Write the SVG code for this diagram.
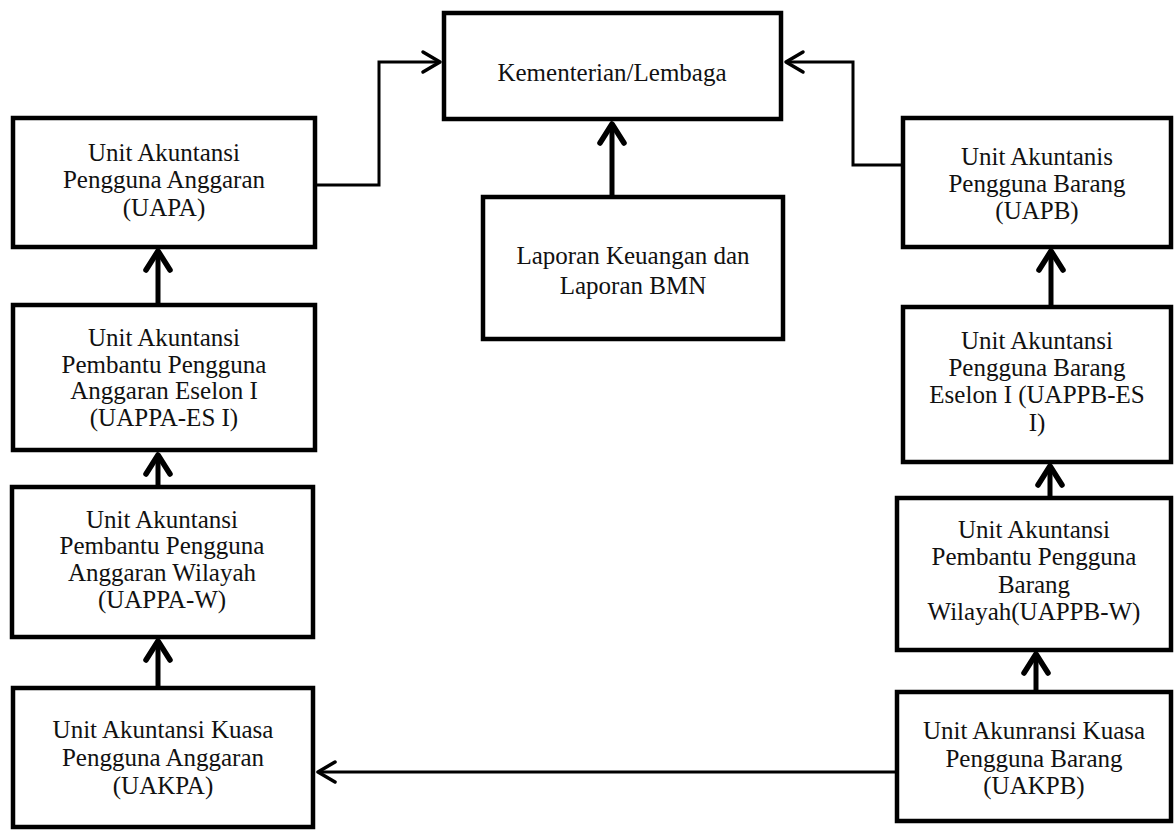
<svg xmlns="http://www.w3.org/2000/svg" width="1175" height="831" viewBox="0 0 1175 831">
<style>
.box{fill:#fff;stroke:#000;stroke-width:4.5}
.t{font-family:"Liberation Serif","Times New Roman",serif;font-size:25px;fill:#111;text-anchor:middle}
.thick{fill:none;stroke:#000;stroke-width:5}
.thin{fill:none;stroke:#000;stroke-width:3}
</style>
<defs>
<marker id="ah" markerUnits="userSpaceOnUse" markerWidth="40" markerHeight="40" viewBox="-30 -20 40 40" refX="0" refY="0" orient="auto">
<path d="M-19,-12 L0,0 L-19,12" fill="none" stroke="#000" stroke-width="5.5" stroke-linecap="round" stroke-linejoin="round"/>
</marker>
<marker id="as" markerUnits="userSpaceOnUse" markerWidth="40" markerHeight="40" viewBox="-30 -20 40 40" refX="0" refY="0" orient="auto">
<path d="M-17,-10 L0,0 L-17,10" fill="none" stroke="#000" stroke-width="3.5" stroke-linecap="round" stroke-linejoin="round"/>
</marker>
</defs>
<rect width="1175" height="831" fill="#fff"/>
<g id="connectors">
<path class="thick" d="M612,197 V124" marker-end="url(#ah)"/>
<path class="thin" d="M316,185 H379 V62 H440" marker-end="url(#as)"/>
<path class="thin" d="M903,165 H853 V62 H786" marker-end="url(#as)"/>
<path class="thick" d="M158,305 V251" marker-end="url(#ah)"/>
<path class="thick" d="M158,487 V455" marker-end="url(#ah)"/>
<path class="thick" d="M158,688 V641" marker-end="url(#ah)"/>
<path class="thick" d="M1051,307 V251" marker-end="url(#ah)"/>
<path class="thick" d="M1050,498 V466" marker-end="url(#ah)"/>
<path class="thick" d="M1036,692 V654" marker-end="url(#ah)"/>
<path class="thin" d="M897,772 H318" marker-end="url(#as)"/>
</g>
<g id="kementerian">
<rect class="box" x="444" y="13" width="337" height="106"/>
<text class="t" x="612" y="81">Kementerian/Lembaga</text>
</g>
<g id="laporan">
<rect class="box" x="483" y="197" width="300" height="142"/>
<text class="t" x="633" y="264">Laporan Keuangan dan</text>
<text class="t" x="633" y="294">Laporan BMN</text>
</g>
<g id="uapa">
<rect class="box" x="13" y="118" width="302" height="129"/>
<text class="t" x="164" y="161">Unit Akuntansi</text>
<text class="t" x="164" y="188">Pengguna Anggaran</text>
<text class="t" x="164" y="216">(UAPA)</text>
</g>
<g id="uappa-es">
<rect class="box" x="13" y="305" width="302" height="145"/>
<text class="t" x="164" y="346">Unit Akuntansi</text>
<text class="t" x="164" y="373">Pembantu Pengguna</text>
<text class="t" x="164" y="399">Anggaran Eselon I</text>
<text class="t" x="164" y="426">(UAPPA-ES I)</text>
</g>
<g id="uappa-w">
<rect class="box" x="12" y="487" width="301" height="150"/>
<text class="t" x="162" y="528">Unit Akuntansi</text>
<text class="t" x="162" y="554">Pembantu Pengguna</text>
<text class="t" x="162" y="581">Anggaran Wilayah</text>
<text class="t" x="162" y="608">(UAPPA-W)</text>
</g>
<g id="uakpa">
<rect class="box" x="13" y="688" width="300" height="139"/>
<text class="t" x="163" y="738">Unit Akuntansi Kuasa</text>
<text class="t" x="163" y="766">Pengguna Anggaran</text>
<text class="t" x="163" y="794">(UAKPA)</text>
</g>
<g id="uapb">
<rect class="box" x="903" y="118" width="268" height="129"/>
<text class="t" x="1037" y="165">Unit Akuntanis</text>
<text class="t" x="1037" y="192">Pengguna Barang</text>
<text class="t" x="1037" y="219">(UAPB)</text>
</g>
<g id="uappb-es">
<rect class="box" x="903" y="307" width="268" height="155"/>
<text class="t" x="1037" y="349">Unit Akuntansi</text>
<text class="t" x="1037" y="376">Pengguna Barang</text>
<text class="t" x="1037" y="403">Eselon I (UAPPB-ES</text>
<text class="t" x="1037" y="431">I)</text>
</g>
<g id="uappb-w">
<rect class="box" x="897" y="498" width="274" height="152"/>
<text class="t" x="1034" y="538">Unit Akuntansi</text>
<text class="t" x="1034" y="565">Pembantu Pengguna</text>
<text class="t" x="1034" y="593">Barang</text>
<text class="t" x="1034" y="620">Wilayah(UAPPB-W)</text>
</g>
<g id="uakpb">
<rect class="box" x="897" y="692" width="274" height="129"/>
<text class="t" x="1034" y="739">Unit Akunransi Kuasa</text>
<text class="t" x="1034" y="767">Pengguna Barang</text>
<text class="t" x="1034" y="794">(UAKPB)</text>
</g>
</svg>
